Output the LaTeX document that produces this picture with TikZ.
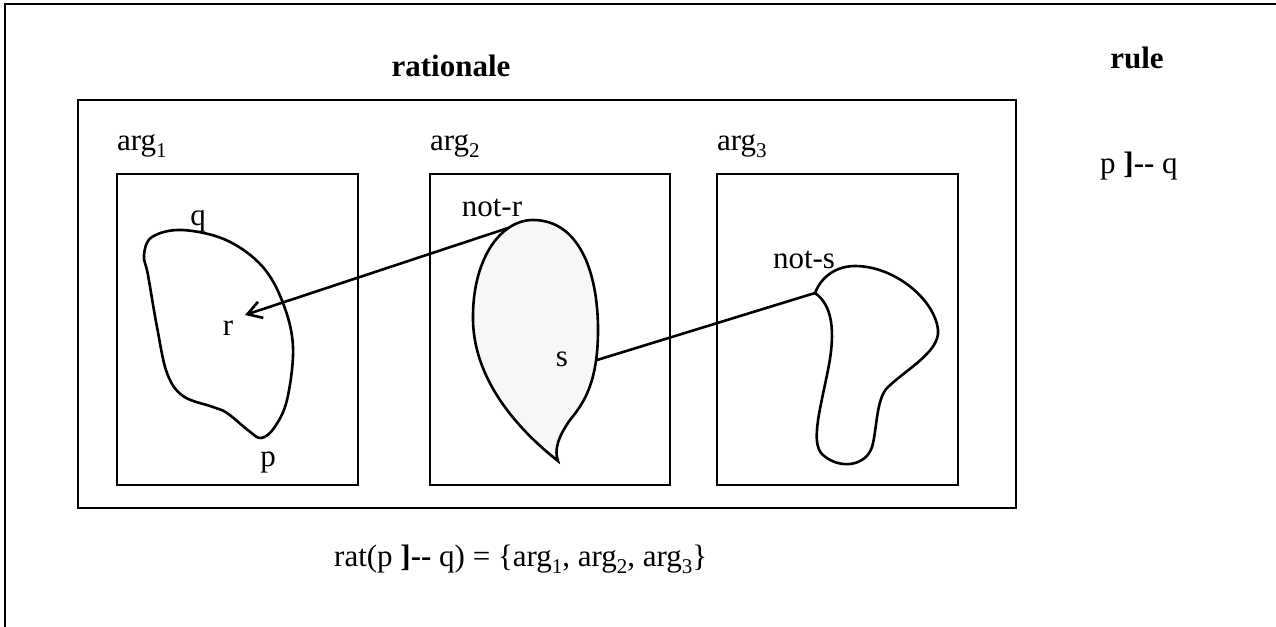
\documentclass[tikz,border=0pt]{standalone}
\usepackage{fontspec}
\setmainfont{Liberation Serif}
\usetikzlibrary{arrows.meta}
\newcommand\mysub[1]{\raisebox{-7pt}{\fontsize{21}{21}\selectfont #1}}
\begin{document}
\begin{tikzpicture}[x=1pt,y=-1pt,
  txt/.style={inner sep=0pt,anchor=base west,font=\fontsize{31}{35}\selectfont},
  ttl/.style={inner sep=0pt,anchor=base,font=\fontsize{31}{35}\selectfont\bfseries},
  frame/.style={draw,line width=2.9pt},
  blob/.style={draw,line width=2.6pt},
  conn/.style={draw,line width=2.6pt}]
\useasboundingbox (0,0) rectangle (1276,626);
\clip (0,0) rectangle (1276,626);
% outer frame (only left and top visible)
\draw[frame] (5,4) rectangle (1300,660);
% titles
\node[ttl] (rat) at (451,77) {rationale};
\node[ttl] (rul) at (1137,69) {rule};
\node[txt] (rule) at (1100,173) {p \textbf{]-{}-} q};
% rationale box
\draw[frame] (78,100) rectangle (1016,508);
% argument boxes
\node[txt] (a1) at (117,150) {arg\mysub{1}};
\node[txt] (a2) at (430,150) {arg\mysub{2}};
\node[txt] (a3) at (717,150) {arg\mysub{3}};
\draw[frame] (117,174) rectangle (358,485);
\draw[frame] (430,174) rectangle (670,485);
\draw[frame] (717,174) rectangle (958,485);
% blob 1
\draw[blob] plot[smooth cycle,tension=0.6] coordinates {
  (182,230) (226,240) (262,266) (283,303) (293,347) (287,400) (274,428) (261,438)
  (249,431) (227,413) (213,407) (183,396) (167,373) (157,327) (148,275) (144,255) (152,237)};
\node[txt,anchor=base] (q) at (198,225) {q};
\node[txt,anchor=base] (r) at (228,335) {r};
\node[txt,anchor=base] (p) at (268,466) {p};
% blob 2 (shaded)
\draw[blob,fill={rgb,255:red,247;green,247;blue,247}]
  (558,461) .. controls (525,435) and (474,385) .. (473,320)
  .. controls (472,260) and (500,220) .. (533,220)
  .. controls (578,220) and (598,270) .. (598,330)
  .. controls (598,385) and (582,405) .. (570,420)
  .. controls (558,437) and (554,450) .. (558,461) -- cycle;
\node[txt,anchor=base] (notr) at (492,216) {not-r};
\node[txt,anchor=base] (s) at (562,366) {s};
% blob 3
\draw[blob] (815,293) .. controls (822,275) and (838,266) .. (855,266)
  .. controls (895,266) and (935,300) .. (938,330)
  .. controls (940,352) and (905,370) .. (887,388)
  .. controls (876,400) and (877,430) .. (872,447)
  .. controls (866,466) and (840,470) .. (823,455)
  .. controls (810,444) and (820,410) .. (828,370)
  .. controls (836,330) and (832,305) .. (815,293);
\node[txt,anchor=base] (nots) at (804,268) {not-s};
% connectors
\coordinate (pnotr) at (508,228);
\coordinate (pr) at (245,315);
\coordinate (ps) at (597,360);
\coordinate (pnots) at (815,293);
\draw[conn,-{Straight Barb[length=14pt,width=17pt,line width=2.6pt]}] (pnotr) -- (pr);
\draw[conn] (ps) -- (pnots);
% bottom formula
\node[txt] (form) at (334,566) {rat(p \textbf{]-{}-} q) = \{arg\mysub{1}, arg\mysub{2}, arg\mysub{3}\}};
\end{tikzpicture}
\end{document}
